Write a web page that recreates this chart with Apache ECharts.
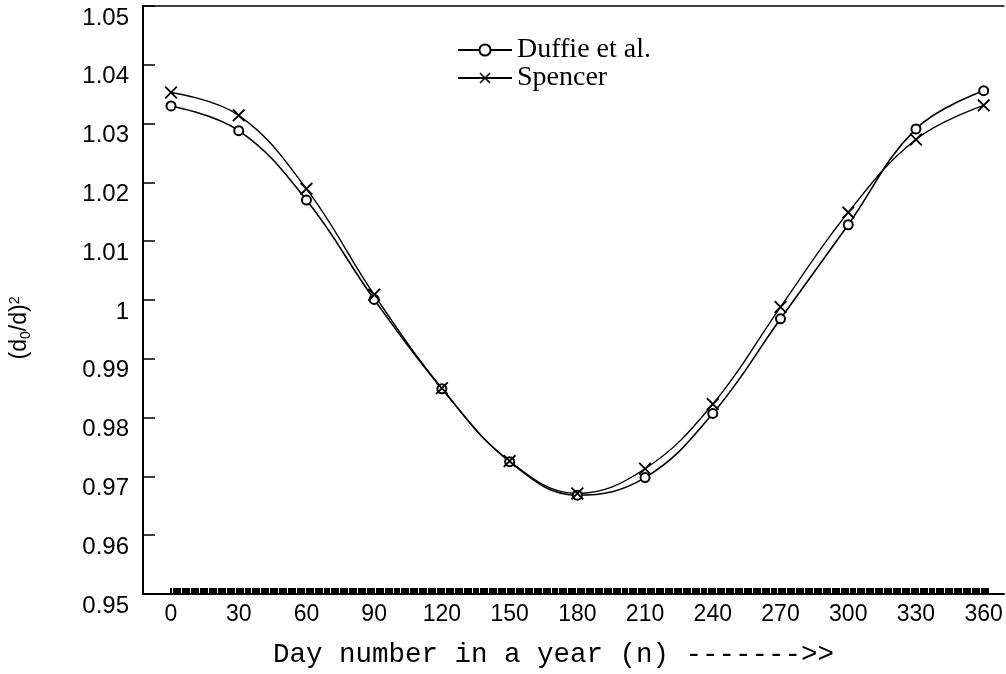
<!DOCTYPE html>
<html>
<head>
<meta charset="utf-8">
<script src="https://cdn.jsdelivr.net/npm/echarts@6/dist/echarts.min.js"></script>
<style>
  html, body { margin: 0; padding: 0; background: #fff; }
  #chart { width: 1006px; height: 674px; }
</style>
</head>
<body>
<div id="chart"></div>
<script>
var days = [0, 30, 60, 90, 120, 150, 180, 210, 240, 270, 300, 330, 360];
var duffie = [1.0330, 1.0288, 1.0170, 1.0001, 0.9849, 0.9725, 0.9668, 0.9698, 0.9807, 0.9968, 1.0128, 1.0291, 1.0356];
var spencer = [1.0353, 1.0314, 1.0189, 1.0009, 0.9850, 0.9726, 0.9671, 0.9713, 0.9823, 0.9988, 1.0149, 1.0273, 1.0331];
var dayLabels = [0, 30, 60, 90, 120, 150, 180, 210, 240, 270, 300, 330, 360];

// dense scanned tick band along the bottom axis (one per day)
var denseTicks = [];
for (var d = 0; d <= 362; d++) denseTicks.push(d);

function pairs(xs, ys) {
	var out = [];
	for (var i = 0; i < xs.length; i++) out.push([xs[i], ys[i]]);
	return out;
}

var xMark = 'path://M0,1L1,0L5,4L9,0L10,1L6,5L10,9L9,10L5,6L1,10L0,9L4,5Z';

var chart = echarts.init(document.getElementById('chart'));
chart.setOption({
	backgroundColor: '#fff',
	animation: false,
	grid: { left: 142, right: 2, top: 6, bottom: 71 },
	legend: {
		orient: 'vertical',
		left: 452,
		top: 31,
		itemGap: 0,
		itemWidth: 54,
		itemHeight: 14,
		textStyle: { fontFamily: 'Liberation Serif', fontSize: 28, color: '#000' },
		data: ['Duffie et al.', 'Spencer']
	},
	xAxis: [{
		type: 'value',
		min: -12.4,
		max: 369,
		axisLine: { show: true, onZero: false, lineStyle: { color: '#000', width: 2 } },
		axisTick: {
			show: true,
			inside: true,
			length: 6,
			customValues: denseTicks,
			lineStyle: { color: '#000', width: 2 }
		},
		axisLabel: {
			customValues: dayLabels,
			margin: 9,
			fontFamily: 'Liberation Sans',
			fontSize: 23,
			color: '#000'
		},
		splitLine: { show: false },
		name: 'Day number in a year (n) ------->>',
		nameLocation: 'middle',
		nameGap: 47,
		nameTextStyle: {
			fontFamily: 'Liberation Mono',
			fontSize: 27.5,
			color: '#000',
			padding: [0, 40, 0, 0]
		}
	}, {
		type: 'value',
		position: 'top',
		min: -12.4,
		max: 369,
		axisLine: { show: true, lineStyle: { color: '#000', width: 1.5 } },
		axisTick: { show: false },
		axisLabel: { show: false },
		splitLine: { show: false }
	}],
	yAxis: {
		type: 'value',
		min: 0.95,
		max: 1.05,
		interval: 0.01,
		axisLine: { show: true, onZero: false, lineStyle: { color: '#000', width: 2 } },
		axisTick: { show: true, inside: true, length: 12, lineStyle: { color: '#000', width: 1.5 } },
		axisLabel: {
			margin: 14,
			verticalAlign: 'top',
			fontFamily: 'Liberation Sans',
			fontSize: 24,
			color: '#000',
			formatter: function(v) { return String(+v.toFixed(2)); }
		},
		splitLine: { show: false },
		name: '(d{sub|0}/d){sup|2}',
		nameLocation: 'middle',
		nameGap: 110,
		nameTextStyle: {
			fontFamily: 'Liberation Sans',
			fontSize: 23,
			color: '#000',
			padding: [0, 56, 0, 0],
			rich: {
				sub: { fontSize: 14, fontFamily: 'Liberation Sans', color: '#000', padding: [12, 0, 0, 0] },
				sup: { fontSize: 14, fontFamily: 'Liberation Sans', color: '#000', padding: [0, 0, 10, 0] }
			}
		}
	},
	series: [
		{
			name: 'Duffie et al.',
			type: 'line',
			smooth: 0.4,
			data: pairs(days, duffie),
			symbol: 'emptyCircle',
			symbolSize: 9,
			lineStyle: { color: '#000', width: 1.6 },
			itemStyle: { color: '#000', borderColor: '#000', borderWidth: 2.2 }
		},
		{
			name: 'Spencer',
			type: 'line',
			smooth: 0.4,
			data: pairs(days, spencer),
			symbol: xMark,
			symbolSize: 13,
			lineStyle: { color: '#000', width: 1.4 },
			itemStyle: { color: '#000' }
		}
	]
});
</script>
</body>
</html>
